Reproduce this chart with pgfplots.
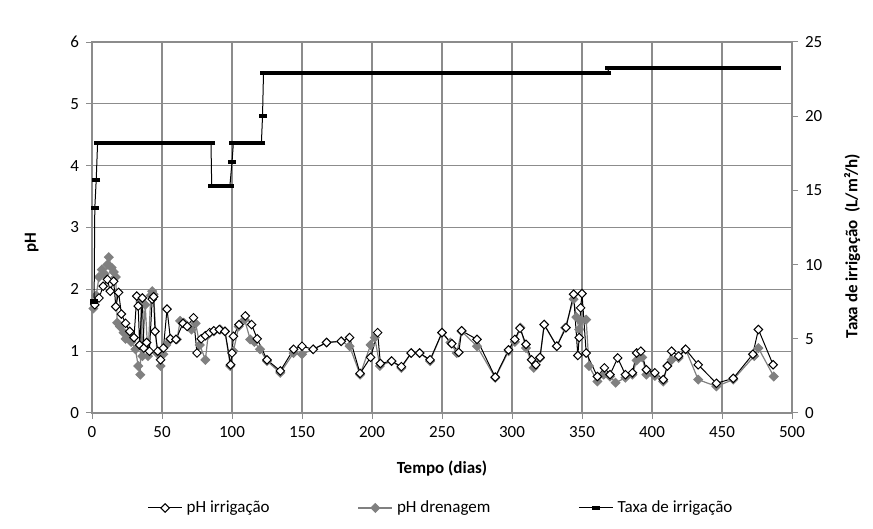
\documentclass[border=0pt]{standalone}
\usepackage{fontspec}
\setmainfont{Carlito}
\usepackage{pgfplots}
\pgfplotsset{compat=1.18}

\definecolor{gridgray}{RGB}{140,140,140}
\definecolor{dren}{RGB}{128,128,128}

\pgfplotsset{
  irrstyle/.style={black, line width=0.5pt, mark=square*,
    mark options={rotate=45, fill=white, draw=black, line width=0.5pt, solid}, mark size=1.5pt},
  drenstyle/.style={dren, line width=0.6pt, mark=square*,
    mark options={rotate=45, fill=dren, draw=dren, solid}, mark size=1.5pt},
  taxastyle/.style={black, line width=0.5pt, mark=-,
    mark options={line width=2.2pt}, mark size=2pt},
}

\begin{document}
\begin{tikzpicture}[font=\fontsize{8.5}{10}\selectfont]
\path[use as bounding box] (0,0) rectangle (436.5pt,264.5pt);
\begin{axis}[
  at={(46pt,58pt)}, anchor=south west,
  scale only axis, width=350pt, height=185.5pt,
  xmin=0, xmax=500, ymin=0, ymax=6,
  xtick={0,50,...,500}, ytick={0,1,...,6},
  xtick pos=left, ytick pos=left,
  tick align=outside, major tick length=3pt,
  tick style={gridgray, line width=0.5pt},
  grid=major, major grid style={gridgray, line width=0.6pt},
  axis line style={gridgray, line width=0.6pt},
  /pgf/number format/assume math mode=true,
  ticklabel style={font=\fontsize{8.5}{10}\selectfont},
  xlabel={\bfseries Tempo (dias)},
  xlabel style={at={(axis description cs:0.5,-0.151)}, anchor=center},
  ylabel={\bfseries pH},
  ylabel style={at={(axis description cs:-0.086,0.46)}, anchor=center},
  legend columns=3,
  legend style={at={(axis description cs:0.5,-0.256)}, anchor=center, draw=none,
    fill=none, font=\fontsize{8.5}{10}\selectfont,
    /tikz/every even column/.append style={column sep=42pt}},
  legend cell align=left,
]
\addplot[drenstyle, forget plot] coordinates {
(1,1.69) (3,1.90) (5,2.20) (7,2.32) (9,2.25) (11,2.40) (12,2.52) (14,2.35)
(15.5,2.28) (17,2.20) (18,1.46) (20,1.40) (22.6,1.30) (24,1.20) (26,1.24)
(28,1.15) (31,1.03) (33,0.76) (34.5,0.62) (35,1.80) (36,0.92) (38,1.75)
(40,0.92) (42,1.90) (43,1.97) (44,1.92) (46.4,0.97) (49,0.76) (51,0.95)
(53,1.10) (56,1.19) (60.7,1.19) (63,1.49) (65.5,1.46) (67.9,1.41) (71,1.35)
(74,1.45) (77,1.10) (81,0.86) (83,1.27) (87,1.32) (91.7,1.35) (95,1.32)
(98.8,0.76) (101,1.00) (104.8,1.40) (109,1.51) (113,1.19) (116,1.15)
(120,1.03) (125,0.84) (134.5,0.65) (144,0.97) (150,0.95) (158,1.03)
(167.6,1.14) (178,1.16) (184,1.08) (191.5,0.62) (199,1.10) (202,1.22)
(205.6,0.76) (214,0.84) (221,0.73) (228,0.97) (234,0.97) (241.5,0.84)
(250,1.30) (256,1.14) (260.5,0.97) (264,1.32) (275,1.08) (288,0.57)
(297.5,1.00) (302,1.15) (306,1.38) (310,1.05) (315.5,0.73) (320,0.89)
(323,1.43) (332,1.08) (338,1.38) (344,1.84) (346,1.55) (348,1.35) (349,1.49)
(353,1.51) (355,0.76) (361,0.51) (365.5,0.62) (370,0.59) (374,0.49)
(381,0.57) (386,0.62) (389,0.85) (393,0.90) (396,0.62) (402,0.60) (408,0.51)
(411,0.76) (414,0.86) (419,0.89) (424,1.03) (433,0.54) (446,0.43) (458,0.54)
(473,0.92) (476,1.05) (487,0.59)
};
\addplot[irrstyle] coordinates {
(2,1.75) (5,1.86) (8,2.05) (11,2.16) (13,1.97) (15.5,2.13) (17,1.72) (19,1.95)
(21,1.60) (24,1.45) (27,1.32) (30,1.22) (32,1.89) (33,1.73) (34,1.10) (36,1.86)
(37,1.05) (39,1.14) (41,1.00) (43,1.84) (44,1.88) (45,1.32) (47,1.00) (49,0.86)
(51,1.05) (53.6,1.68) (56,1.20) (60,1.19) (65,1.45) (68,1.40) (72.5,1.54)
(75,0.97) (78,1.20) (81,1.25) (84,1.30) (87,1.33) (91,1.35) (95,1.32) (99,0.78)
(100,0.97) (101,1.24) (105,1.43) (109.5,1.57) (114,1.43) (118,1.20) (125,0.86)
(134.5,0.68) (144,1.03) (150,1.08) (158,1.03) (167.6,1.14) (178,1.16)
(184,1.22) (191.5,0.64) (199,0.90) (204,1.30) (206,0.80) (214,0.84) (221,0.75)
(228,0.97) (234,0.97) (241.5,0.86) (250,1.30) (257,1.12) (262,0.98) (264,1.33)
(275,1.19) (288,0.58) (297.5,1.02) (302,1.19) (305.7,1.37) (310,1.11)
(314,0.86) (317,0.78) (320,0.90) (323,1.43) (332,1.08) (338.6,1.38)
(344,1.92) (347,0.93) (348,1.22) (349,1.70) (350,1.93) (353,0.97) (361,0.59)
(366,0.73) (370,0.62) (375.5,0.89) (381,0.62) (386,0.65) (389,0.97) (392,1.00)
(396,0.70) (402,0.65) (408,0.54) (411,0.76) (414,1.00) (419,0.92) (424,1.03)
(433,0.78) (446,0.48) (458,0.56) (472,0.95) (476,1.35) (486.5,0.78)
};
\addlegendentry{pH irrigação}
\addlegendimage{drenstyle}
\addlegendentry{pH drenagem}
\addlegendimage{taxastyle}
\addlegendentry{Taxa de irrigação}
\end{axis}
\begin{axis}[
  at={(46pt,58pt)}, anchor=south west,
  scale only axis, width=350pt, height=185.5pt,
  xmin=0, xmax=500, ymin=0, ymax=25,
  axis x line=none, axis y line*=right,
  ytick={0,5,...,25},
  tick align=outside, major tick length=3pt,
  tick style={gridgray, line width=0.5pt},
  axis line style={gridgray, line width=0.6pt},
  /pgf/number format/assume math mode=true,
  ticklabel style={font=\fontsize{8.5}{10}\selectfont},
  ylabel={\bfseries Taxa de irrigação\ \ (L/m²/h)},
  ylabel style={at={(axis description cs:1.086,0.45)}, anchor=center},
]
\addplot[taxastyle] coordinates {
(1.5,7.5) (2,13.8) (3,15.7) (4,18.2) (85,18.2) (85.5,15.3) (98.5,15.3)
(100,16.9) (101,18.2) (121,18.2) (121.8,20.0) (122.5,22.9) (368,22.9)
(369.5,23.25) (489,23.25)
};
\addplot[black, line width=2.2pt, forget plot] coordinates {(4,18.2) (85,18.2)};
\addplot[black, line width=2.2pt, forget plot] coordinates {(85.5,15.3) (98.5,15.3)};
\addplot[black, line width=2.2pt, forget plot] coordinates {(101,18.2) (121,18.2)};
\addplot[black, line width=2.2pt, forget plot] coordinates {(122.5,22.9) (368,22.9)};
\addplot[black, line width=2.2pt, forget plot] coordinates {(369.5,23.25) (489,23.25)};
\end{axis}
\end{tikzpicture}
\end{document}
